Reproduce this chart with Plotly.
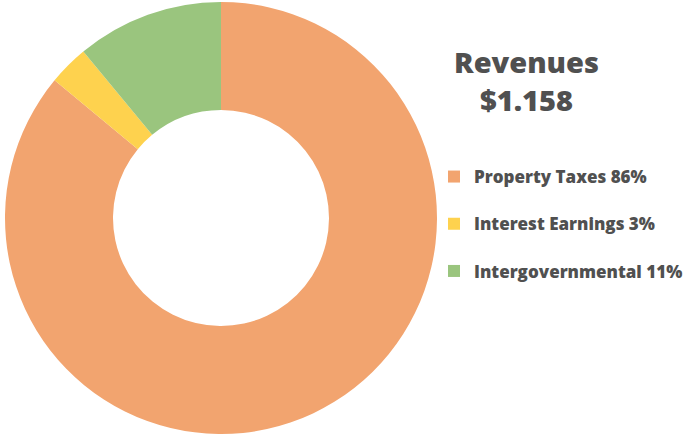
import plotly.graph_objects as go

labels = ["Property Taxes", "Interest Earnings", "Intergovernmental"]
values = [86, 3, 11]
colors = ["#F2A46F", "#FED24E", "#9AC57E"]
title_lines = ["Revenues", "$1.158"]

W, H = 691, 435
FONT = "Open Sans"
legend_labels = [f"{l} {v}%<br> " for l, v in zip(labels, values)]

fig = go.Figure(go.Pie(
    labels=legend_labels,
    values=values,
    hole=0.5,
    sort=False,
    direction="clockwise",
    rotation=0,
    marker=dict(colors=colors, line=dict(width=0)),
    textinfo="none",
    hoverinfo="label+percent",
    domain=dict(x=[5 / W, 437 / W], y=[1 - 434 / H, 1 - 2 / H]),
))

fig.add_annotation(
    text="<br>".join(title_lines),
    xref="paper", yref="paper",
    x=526 / W, y=1 - 80 / H, xanchor="center", yanchor="middle",
    showarrow=False,
    font=dict(size=29, color="#505050", family=FONT, weight=800),
)

fig.update_layout(
    width=W, height=H,
    margin=dict(l=0, r=0, t=0, b=0),
    paper_bgcolor="white",
    plot_bgcolor="white",
    font=dict(family=FONT, color="#505050"),
    showlegend=True,
    legend=dict(
        x=434 / W, xanchor="left",
        y=1 - 159 / H, yanchor="top",
        font=dict(size=17, color="#505050", family=FONT, weight=800),
        valign="top",
        bgcolor="rgba(0,0,0,0)",
        traceorder="normal",
    ),
)

fig.write_html(
    "out.html",
    config={"displayModeBar": False},
    post_script="document.body.style.margin='0';document.body.style.overflow='hidden';",
)
